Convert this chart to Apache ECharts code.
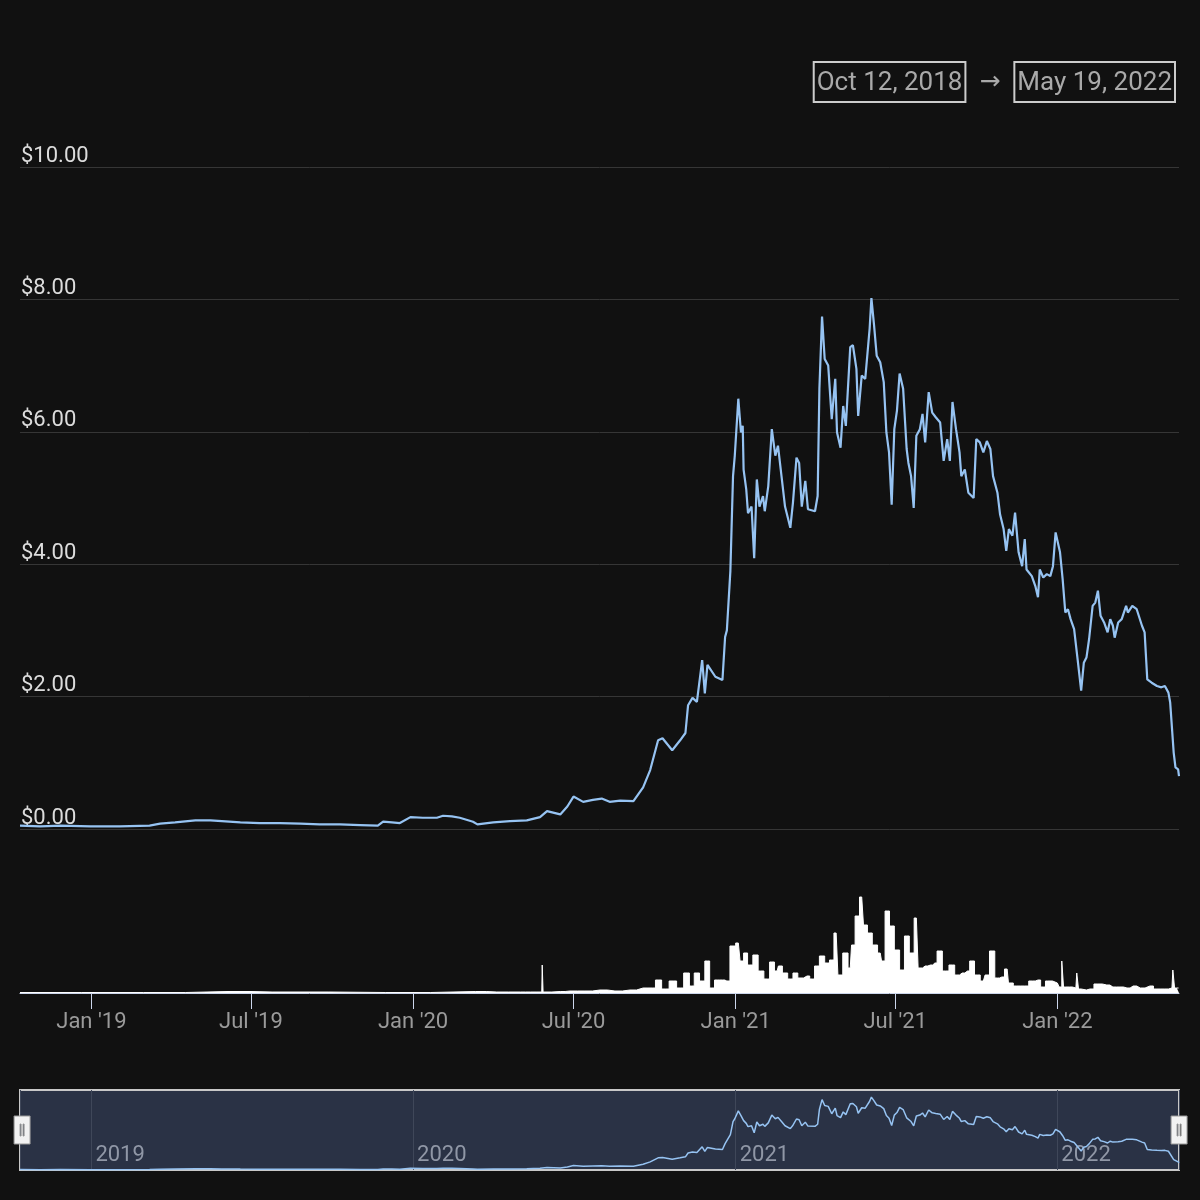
<!DOCTYPE html>
<html>
<head>
<meta charset="utf-8">
<script src="https://cdn.jsdelivr.net/npm/echarts@6/dist/echarts.min.js"></script>
<style>
html,body{margin:0;padding:0;background:#111111;}
#chart{width:1200px;height:1200px;}
</style>
</head>
<body>
<div id="chart"></div>
<script>
// ---- Price (USD) ----
const priceDates = [
'2018-10-12','2018-11-04','2018-11-27','2018-12-31','2019-02-02','2019-03-08','2019-03-20','2019-04-06','2019-04-29','2019-05-16',
'2019-05-29','2019-06-19','2019-07-11','2019-08-03','2019-08-26','2019-09-17','2019-10-10','2019-11-02','2019-11-22','2019-11-28',
'2019-12-08','2019-12-17','2019-12-29','2020-01-12','2020-01-28','2020-02-04','2020-02-14','2020-02-23','2020-03-09','2020-03-14',
'2020-04-01','2020-04-20','2020-05-09','2020-05-24','2020-06-01','2020-06-16','2020-06-24','2020-07-01','2020-07-12','2020-07-23',
'2020-08-02','2020-08-11','2020-08-23','2020-09-07','2020-09-18','2020-09-26','2020-10-05','2020-10-10','2020-10-21','2020-10-30',
'2020-11-05','2020-11-08','2020-11-13','2020-11-18','2020-11-24','2020-11-27','2020-11-30','2020-12-09','2020-12-17','2020-12-20',
'2020-12-22','2020-12-26','2020-12-29','2020-12-31','2021-01-04','2021-01-07','2021-01-09','2021-01-10','2021-01-13','2021-01-15',
'2021-01-19','2021-01-22','2021-01-25','2021-01-28','2021-02-01','2021-02-03','2021-02-07','2021-02-11','2021-02-15','2021-02-18',
'2021-02-22','2021-02-26','2021-03-04','2021-03-07','2021-03-11','2021-03-14','2021-03-17','2021-03-21','2021-03-24','2021-04-01',
'2021-04-04','2021-04-06','2021-04-09','2021-04-12','2021-04-16','2021-04-20','2021-04-24','2021-04-26','2021-04-30','2021-05-03',
'2021-05-06','2021-05-11','2021-05-14','2021-05-18','2021-05-20','2021-05-24','2021-05-28','2021-06-02','2021-06-04','2021-06-07',
'2021-06-10','2021-06-14','2021-06-18','2021-06-21','2021-06-24','2021-06-27','2021-06-30','2021-07-03','2021-07-06','2021-07-10',
'2021-07-14','2021-07-16','2021-07-19','2021-07-22','2021-07-25','2021-07-29','2021-08-01','2021-08-04','2021-08-08','2021-08-12',
'2021-08-16','2021-08-21','2021-08-25','2021-08-29','2021-09-01','2021-09-04','2021-09-08','2021-09-12','2021-09-14','2021-09-18',
'2021-09-22','2021-09-28','2021-10-01','2021-10-05','2021-10-09','2021-10-13','2021-10-17','2021-10-20','2021-10-25','2021-10-28',
'2021-11-01','2021-11-04','2021-11-07','2021-11-11','2021-11-14','2021-11-18','2021-11-22','2021-11-25','2021-11-27','2021-12-03',
'2021-12-07','2021-12-10','2021-12-12','2021-12-16','2021-12-20','2021-12-24','2021-12-27','2021-12-30','2022-01-01','2022-01-04',
'2022-01-07','2022-01-10','2022-01-13','2022-01-16','2022-01-20','2022-01-24','2022-01-28','2022-01-31','2022-02-03','2022-02-06',
'2022-02-10','2022-02-13','2022-02-16','2022-02-19','2022-02-23','2022-02-27','2022-03-02','2022-03-05','2022-03-07','2022-03-11',
'2022-03-15','2022-03-20','2022-03-22','2022-03-27','2022-04-01','2022-04-07','2022-04-10','2022-04-13','2022-04-18','2022-04-24',
'2022-04-29','2022-05-03','2022-05-07','2022-05-09','2022-05-13','2022-05-15','2022-05-18','2022-05-19'
];
const prices = [
0.05,0.04,0.05,0.04,0.04,0.05,0.08,0.10,0.13,0.13,
0.12,0.10,0.09,0.09,0.08,0.07,0.07,0.06,0.05,0.11,
0.10,0.09,0.18,0.17,0.17,0.20,0.19,0.17,0.11,0.07,
0.10,0.12,0.13,0.18,0.27,0.22,0.34,0.49,0.41,0.44,
0.46,0.41,0.43,0.42,0.63,0.89,1.34,1.37,1.19,1.34,
1.45,1.87,1.98,1.92,2.55,2.05,2.48,2.30,2.25,2.90,
3.00,3.90,5.33,5.64,6.50,5.99,6.09,5.43,5.13,4.77,
4.87,4.09,5.28,4.87,5.03,4.80,5.18,6.04,5.64,5.79,
5.33,4.87,4.55,4.93,5.61,5.53,4.87,5.26,4.83,4.80,
5.03,6.65,7.74,7.10,7.00,6.19,6.80,5.99,5.76,6.39,
6.09,7.28,7.31,6.95,6.24,6.85,6.80,7.56,8.02,7.61,
7.15,7.05,6.75,5.99,5.69,4.90,6.04,6.32,6.88,6.65,
5.74,5.53,5.33,4.85,5.94,6.04,6.27,5.84,6.60,6.29,
6.22,6.14,5.56,5.89,5.56,6.45,6.04,5.69,5.33,5.43,
5.08,5.00,5.89,5.84,5.69,5.86,5.74,5.33,5.08,4.75,
4.53,4.20,4.53,4.43,4.78,4.18,3.97,4.38,3.92,3.82,
3.67,3.50,3.92,3.80,3.85,3.82,3.97,4.48,4.50,4.18,
3.77,3.27,3.32,3.17,3.02,2.56,2.09,2.51,2.59,2.87,
3.37,3.42,3.60,3.22,3.12,2.97,3.17,3.07,2.89,3.12,
3.17,3.37,3.27,3.37,3.32,3.07,2.97,2.26,2.21,2.16,
2.14,2.16,2.06,1.91,1.15,0.93,0.90,0.80
];

// ---- Volume (relative units) ----
const volumeDates = [
'2018-10-12','2019-03-01','2019-06-05','2019-07-25','2019-12-01','2020-03-12','2020-04-05','2020-05-02','2020-05-13','2020-05-26',
'2020-05-27','2020-05-28','2020-06-16','2020-06-27','2020-07-14','2020-07-31','2020-08-17','2020-09-03','2020-09-18','2020-09-29',
'2020-10-05','2020-10-13','2020-10-22','2020-10-30','2020-11-07','2020-11-12','2020-11-18','2020-11-24','2020-11-30','2020-12-05',
'2020-12-11','2020-12-17','2020-12-22','2020-12-29','2021-01-04','2021-01-08','2021-01-12','2021-01-17','2021-01-24','2021-01-29',
'2021-02-06','2021-02-11','2021-02-17','2021-02-20','2021-02-26','2021-03-04','2021-03-10','2021-03-15','2021-03-23','2021-03-29',
'2021-04-03','2021-04-09','2021-04-15','2021-04-20','2021-04-25','2021-04-29','2021-05-06','2021-05-11','2021-05-14','2021-05-19',
'2021-05-24','2021-05-28','2021-06-02','2021-06-08','2021-06-14','2021-06-17','2021-06-22','2021-06-27','2021-07-03','2021-07-09',
'2021-07-14','2021-07-20','2021-07-25','2021-07-29','2021-08-04','2021-08-10','2021-08-15','2021-08-20','2021-08-27','2021-09-04',
'2021-09-09','2021-09-15','2021-09-21','2021-09-26','2021-10-02','2021-10-09','2021-10-13','2021-10-19','2021-10-25','2021-10-30',
'2021-11-05','2021-11-08','2021-11-16','2021-11-25','2021-12-04','2021-12-10','2021-12-16','2021-12-21','2022-01-01','2022-01-05',
'2022-01-07','2022-01-09','2022-01-12','2022-01-18','2022-01-22','2022-01-24','2022-01-26','2022-01-30','2022-02-07','2022-02-16',
'2022-02-26','2022-03-05','2022-03-13','2022-03-21','2022-03-28','2022-04-05','2022-04-16','2022-04-24','2022-05-03','2022-05-11',
'2022-05-13','2022-05-15','2022-05-18','2022-05-19'
];
const volumes = [
0.5,0.5,1.5,1,0.5,1.5,1,1,1,1,
28,1,1.5,2,2,3,2,3,5,5,
13,4,12,5,20,7,20,12,32,5,
13,13,12,47,50,32,40,28,38,22,
14,31,22,27,20,14,20,15,17,14,
27,37,30,33,60,18,40,25,48,77,
96,68,60,48,40,32,82,67,43,23,
57,40,75,25,27,28,30,42,22,28,
18,20,22,32,18,12,18,42,15,16,
24,10,7,7,12,13,6,12,10,6,
32,6,6,6,5,20,4,3,4,9,
8,6,6,5,7,5,7,4,4,5,
23,5,6,5
];

const MONTHS = ['Jan','Feb','Mar','Apr','May','Jun','Jul','Aug','Sep','Oct','Nov','Dec'];
function toTs(s){ const p = s.split('-').map(Number); return new Date(p[0], p[1]-1, p[2]).getTime(); }
function fmtLong(s){ const p = s.split('-').map(Number); return MONTHS[p[1]-1] + ' ' + p[2] + ', ' + p[0]; }

const priceData = priceDates.map((d,i)=>[toTs(d), prices[i]]);
const volumeData = volumeDates.map((d,i)=>[toTs(d), volumes[i]]);
const tMin = toTs(priceDates[0]);
const tMax = toTs(priceDates[priceDates.length-1]);
const DAY = 86400000;
const FONT = 'Roboto';
const LINE = '#96c3f2';

const chart = echarts.init(document.getElementById('chart'));
chart.setOption({
  backgroundColor: '#111111',
  animation: false,
  title: {
    text: '{b|' + fmtLong(priceDates[0]) + '}{a|→}{b|' + fmtLong(priceDates[priceDates.length-1]) + '}',
    right: 23, top: 69, padding: 0,
    textStyle: {
      fontWeight: 'normal',
      rich: {
        b: {fontFamily: FONT, fontSize: 26, fontWeight: 'normal', color: '#a9a9a9', borderColor: '#cccccc', borderWidth: 2, padding: [8, 3, 6, 3], lineHeight: 26},
        a: {fontFamily: 'DejaVu Sans', fontSize: 25, fontWeight: 'normal', color: '#a9a9a9', padding: [0, 14, 0, 14]}
      }
    }
  },
  grid: [
    {left: 20, right: 21, top: 167, bottom: 371},
    {left: 20, right: 21, top: 853, bottom: 207},
    {left: 20, right: 21, top: 1090, height: 80, show: true, backgroundColor: '#2a3245', borderColor: '#c8c8c8', borderWidth: 2}
  ],
  xAxis: [
    {type: 'time', gridIndex: 0, min: tMin, max: tMax, show: false},
    {type: 'time', gridIndex: 1, min: tMin, max: tMax,
      minInterval: 180*DAY, maxInterval: 186*DAY,
      axisLine: {show: true, lineStyle: {color: '#ccd6eb', width: 1}},
      axisTick: {show: true, length: 16, lineStyle: {color: '#ccd6eb'}},
      splitLine: {show: false},
      axisLabel: {
        margin: 18, color: '#9a9a9a', fontFamily: FONT, fontSize: 22, showMinLabel: false, showMaxLabel: false,
        formatter: function(v){ const d = new Date(v); const m = d.getMonth(); const yy = String(d.getFullYear()).slice(2);
          return (m === 0 ? 'Jan' : (m === 6 ? 'Jul' : MONTHS[m])) + " '" + yy; }
      }
    },
    {type: 'time', gridIndex: 2, min: tMin, max: tMax,
      minInterval: 365*DAY, maxInterval: 366*DAY,
      axisLine: {show: false}, axisTick: {show: false},
      splitLine: {show: true, lineStyle: {color: '#3f4759', width: 1}},
      axisLabel: {inside: true, margin: 4, color: '#9097a6', fontFamily: FONT, fontSize: 22, align: 'left', padding: [0,0,0,4],
        showMinLabel: false, showMaxLabel: false,
        formatter: function(v){ return String(new Date(v).getFullYear()); }
      }
    }
  ],
  yAxis: [
    {type: 'value', gridIndex: 0, min: 0, max: 10, interval: 2,
      axisLine: {show: false}, axisTick: {show: false},
      splitLine: {lineStyle: {color: '#363636', width: 1}},
      axisLabel: {inside: true, margin: 1, verticalAlign: 'bottom', padding: [0,0,0,0], color: '#dcdcdc', fontFamily: FONT, fontSize: 22,
        formatter: function(v){ return '$' + v.toFixed(2); }}
    },
    {type: 'value', gridIndex: 1, min: 0, max: 140, show: false, splitLine: {show: false}},
    {type: 'value', gridIndex: 2, min: 0, max: 8.8, show: false, splitLine: {show: false}}
  ],
  dataZoom: [{
    type: 'slider', xAxisIndex: [0, 1], filterMode: 'none',
    left: 20, right: 21, top: 1090, height: 80, start: 0, end: 100,
    showDataShadow: false, showDetail: false, brushSelect: false, moveHandleSize: 0,
    backgroundColor: 'rgba(0,0,0,0)', fillerColor: 'rgba(0,0,0,0)', borderColor: 'rgba(0,0,0,0)',
    handleIcon: 'path://M0,0H16V28H0Z M6,8V20H7V8Z M9,8V20H10V8Z',
    handleSize: '35%',
    handleStyle: {color: '#f2f2f2', borderColor: '#999999', borderWidth: 1}
  }],
  series: [
    {type: 'line', xAxisIndex: 0, yAxisIndex: 0, data: priceData, showSymbol: false, smooth: false,
      lineStyle: {color: LINE, width: 2.2}, itemStyle: {color: LINE}},
    {type: 'line', xAxisIndex: 1, yAxisIndex: 1, data: volumeData, step: 'middle', showSymbol: false,
      lineStyle: {color: '#ffffff', width: 1}, areaStyle: {color: '#ffffff', opacity: 1}, itemStyle: {color: '#ffffff'}},
    {type: 'line', xAxisIndex: 2, yAxisIndex: 2, data: priceData, showSymbol: false,
      lineStyle: {color: LINE, width: 1.5}, itemStyle: {color: LINE}}
  ]
});
</script>
</body>
</html>
